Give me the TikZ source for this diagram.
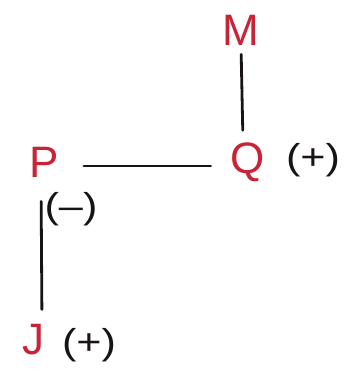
\documentclass[tikz,border=0pt]{standalone}
\usepackage{fontspec}
\setmainfont{Liberation Sans}
\definecolor{letterred}{RGB}{200,35,55}
\definecolor{inkblack}{RGB}{25,20,20}
\tikzset{
  letter/.style={text=letterred, font=\fontsize{44}{44}\selectfont, inner sep=0pt},
  sign/.style={text=inkblack, font=\fontsize{36}{36}\selectfont, inner sep=0pt, xscale=1.2},
  link/.style={draw=inkblack, line width=2.8pt, line cap=round}
}
\begin{document}
\begin{tikzpicture}[x=1pt,y=-1pt]
\useasboundingbox (0,0) rectangle (349,380);
\node[letter] (M) at (241,30) {M};
\node[letter] (Q) at (248,162) {Q};
\node[sign] (Qs) at (313,160) {(+)};
\node[letter] (P) at (44,162) {P};
\node[sign] (Ps) at (71,209) {(\textendash)};
\node[letter] (J) at (33,340) {J};
\node[sign] (Js) at (89,345) {(+)};
\draw[link, shorten <=9pt, shorten >=12pt] (M.south) -- ([xshift=-5pt]Q.north);
\draw[link, shorten <=25pt, shorten >=20pt] ([yshift=-4pt]P.east) -- ([yshift=-4pt]Q.west);
\draw[link, shorten <=24pt, shorten >=15pt] ([xshift=-3pt]P.south) -- ([xshift=9pt]J.north);
\end{tikzpicture}
\end{document}
